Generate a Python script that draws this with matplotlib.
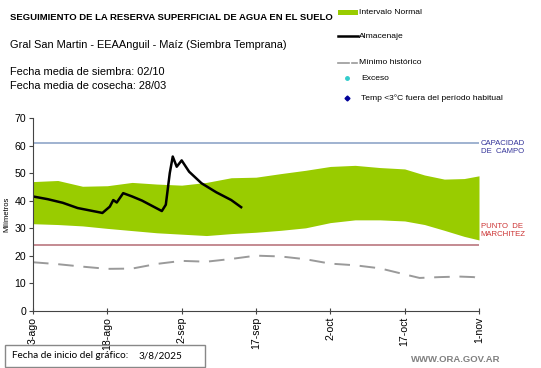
import matplotlib
matplotlib.use("Agg")
import matplotlib.pyplot as plt
from matplotlib.lines import Line2D
from matplotlib.patches import Rectangle

plt.rcParams['font.family'] = ['Liberation Sans', 'DejaVu Sans']

# days since 3-ago-2025
band_days = [0, 5, 10, 15, 20, 25, 30, 35, 40, 45, 50, 55, 60, 65, 70, 75, 79, 83, 87, 90]
band_upper = [46.9, 47.3, 45.2, 45.4, 46.6, 46.0, 45.6, 46.6, 48.3, 48.5, 49.8, 51.0, 52.4, 52.8, 52.0, 51.5,
              49.3, 47.8, 48.0, 49.0]
band_lower = [31.6, 31.3, 30.8, 29.9, 29.1, 28.3, 27.8, 27.3, 28.0, 28.5, 29.2, 30.1, 32.0, 33.0, 33.0, 32.6,
              31.3, 29.2, 27.0, 25.7]

min_days = [0, 5, 10, 15, 20, 25, 30, 35, 40, 45, 50, 55, 60, 65, 70, 75, 78, 82, 86, 89, 90]
min_hist = [17.6, 16.9, 16.0, 15.2, 15.3, 17.0, 18.1, 17.8, 18.8, 20.0, 19.7, 18.7, 17.1, 16.5, 15.4, 13.2,
            11.9, 12.2, 12.4, 12.2, 11.4]

alm_days = [0, 3, 6, 9, 13.5, 14, 15.5, 16.2, 16.9, 18.2, 20, 22, 26, 26.8, 27.6, 28.2, 29, 30, 31.5, 34, 37, 40, 42]
almacenaje = [41.5, 40.5, 39.2, 37.3, 35.7, 35.5, 37.8, 40.2, 39.3, 42.7, 41.5, 40.0, 36.2, 38.5, 50.0, 56.0,
              52.3, 54.6, 50.5, 46.3, 43.0, 40.2, 37.6]

capacidad = 61
marchitez = 24
tick_days = [0, 15, 30, 45, 60, 75, 90]
tick_labels = ['3-ago', '18-ago', '2-sep', '17-sep', '2-oct', '17-oct', '1-nov']

W, H = 541, 368
fig = plt.figure(figsize=(W / 100, H / 100), dpi=100)
ax = fig.add_axes([33 / W, 1 - 310.7 / H, (479 - 33) / W, (310.7 - 118) / H])

# band, reference lines, series
ax.fill_between(band_days, band_lower, band_upper, color='#99CC00', lw=0)
ax.axhline(capacidad, color='#8FA6C8', lw=1.2)
ax.axhline(marchitez, color='#C48A92', lw=1.4)
ax.plot(min_days, min_hist, color='#9A9A9A', lw=1.4, dashes=(8, 5))
ax.plot(alm_days, almacenaje, color='black', lw=1.8)

ax.set_xlim(0, 90)
ax.set_ylim(0, 70)
ax.set_yticks(range(0, 71, 10))
ax.set_xticks(tick_days)
ax.set_xticklabels(tick_labels, rotation=90)
ax.tick_params(labelsize=7.6, color='#444444', length=3, pad=2)
ax.tick_params(axis='x', direction='inout', length=5)
for s in ['top', 'right']:
    ax.spines[s].set_visible(False)
for s in ['left', 'bottom']:
    ax.spines[s].set_color('#444444')
ax.set_ylabel('Milímetros', fontsize=5.5, labelpad=3)

ax.text(1.004, 62, 'CAPACIDAD\nDE  CAMPO', transform=ax.get_yaxis_transform(), color='#333399',
        fontsize=5.6, va='top', ha='left', linespacing=1.2)
ax.text(1.004, 26.5, 'PUNTO  DE\nMARCHITEZ', transform=ax.get_yaxis_transform(), color='#CC3333',
        fontsize=5.6, va='bottom', ha='left', linespacing=1.2)

# header texts
fig.text(10 / W, 1 - 17 / H, 'SEGUIMIENTO DE LA RESERVA SUPERFICIAL DE AGUA EN EL SUELO', fontsize=6.8,
         weight='bold', va='center')
fig.text(10 / W, 1 - 45 / H, 'Gral San Martin - EEAAnguil - Maíz (Siembra Temprana)', fontsize=7.9, va='center')
fig.text(10 / W, 1 - 72 / H, 'Fecha media de siembra: 02/10', fontsize=7.9, va='center')
fig.text(10 / W, 1 - 86 / H, 'Fecha media de cosecha: 28/03', fontsize=7.9, va='center')

# legend
fig.add_artist(Rectangle((338 / W, 1 - 15 / H), 20 / W, 5 / H, color='#99CC00', lw=0))
fig.add_artist(Line2D([338 / W, 358 / W], [1 - 36 / H, 1 - 36 / H], color='black', lw=1.8))
fig.add_artist(Line2D([338 / W, 349 / W], [1 - 63 / H, 1 - 63 / H], color='#9A9A9A', lw=1.2))
fig.add_artist(Line2D([352 / W, 357 / W], [1 - 63 / H, 1 - 63 / H], color='#9A9A9A', lw=1.2))
fig.add_artist(Line2D([347 / W], [1 - 78 / H], marker='o', color='#33CCCC', ms=2.5, lw=0))
fig.add_artist(Line2D([347 / W], [1 - 98 / H], marker='D', color='#000099', ms=2.5, lw=0))
leg_items = [(359, 12, 'Intervalo Normal'), (359, 36, 'Almacenaje'), (359, 63, 'Mínimo histórico'),
             (361, 78, 'Exceso'), (361, 98, 'Temp <3°C fuera del período habitual')]
for x, y, t in leg_items:
    fig.text(x / W, 1 - y / H, t, fontsize=6.1, va='center')

# footer
fig.text(12 / W, 1 - 356 / H, 'Fecha de inicio del gráfico:', fontsize=7.2, va='center',
         family=['Lato', 'DejaVu Sans'])
fig.text(139 / W, 1 - 356 / H, '3/8/2025', fontsize=7.2, va='center', family=['Lato', 'DejaVu Sans'])
fig.add_artist(Rectangle((5 / W, 1 - 367 / H), 200 / W, 22 / H, fill=False, ec='#888888', lw=1))
fig.text(500 / W, 1 - 360 / H, 'WWW.ORA.GOV.AR', fontsize=6.8, color='#808080', weight='bold', va='center',
         ha='right')

fig.savefig('out.png', dpi=100)
